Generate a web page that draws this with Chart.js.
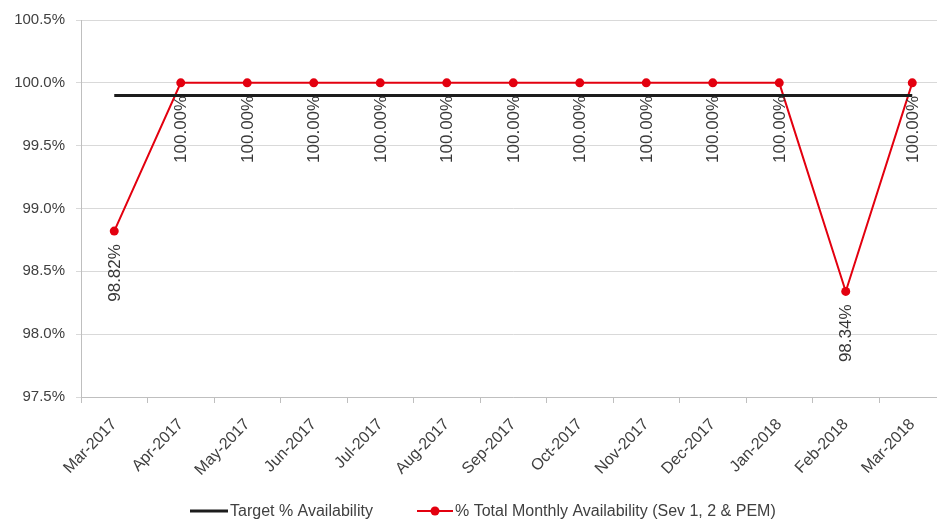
<!DOCTYPE html>
<html>
<head>
<meta charset="utf-8">
<script src="https://cdn.jsdelivr.net/npm/chart.js@4"></script>
<style>
  html, body { margin: 0; padding: 0; background: #fff; overflow: hidden; }
  #wrap { width: 950px; height: 522px; }
</style>
</head>
<body>
<div id="wrap"><canvas id="grafico" width="950" height="522"></canvas></div>
<script>
// dados do gráfico
const meses = ['Mar-2017', 'Apr-2017', 'May-2017', 'Jun-2017', 'Jul-2017', 'Aug-2017', 'Sep-2017',
  'Oct-2017', 'Nov-2017', 'Dec-2017', 'Jan-2018', 'Feb-2018', 'Mar-2018'];
const disponibilidade = [98.82, 100, 100, 100, 100, 100, 100, 100, 100, 100, 100, 98.34, 100];
const meta = [99.9, 99.9, 99.9, 99.9, 99.9, 99.9, 99.9, 99.9, 99.9, 99.9, 99.9, 99.9, 99.9];
const ticksY = [97.5, 98.0, 98.5, 99.0, 99.5, 100.0, 100.5];

const nomeMeta = 'Target % Availability';
const nomeDisp = '% Total Monthly Availability (Sev 1, 2 & PEM)';

const VERMELHO = '#e3000f';
const PRETO = '#1c1c1c';
const FONTE = '"Liberation Sans", Arial, sans-serif';

// rótulos verticais abaixo de cada ponto
const rotulosPlugin = {
  id: 'rotulos',
  afterDatasetsDraw(chart) {
    const ctx = chart.ctx;
    const meta1 = chart.getDatasetMeta(1);
    ctx.save();
    ctx.font = '17px ' + FONTE;
    ctx.fillStyle = '#383838';
    ctx.textAlign = 'right';
    ctx.textBaseline = 'middle';
    meta1.data.forEach((pt, i) => {
      ctx.save();
      ctx.translate(pt.x + 1, pt.y + 13);
      ctx.rotate(-Math.PI / 2);
      ctx.fillText(disponibilidade[i].toFixed(2) + '%', 0, 0);
      ctx.restore();
    });
    ctx.restore();
  }
};

// legenda desenhada à mão (linha preta / linha vermelha com ponto)
const legendaPlugin = {
  id: 'legenda',
  afterDraw(chart) {
    const ctx = chart.ctx;
    const y = 511;
    ctx.save();
    ctx.font = '16px ' + FONTE;
    ctx.fillStyle = '#404040';
    ctx.textAlign = 'left';
    ctx.textBaseline = 'middle';

    ctx.strokeStyle = PRETO;
    ctx.lineWidth = 3;
    ctx.beginPath();
    ctx.moveTo(190, y);
    ctx.lineTo(228, y);
    ctx.stroke();
    ctx.fillText(nomeMeta, 230, y + 1);

    ctx.strokeStyle = VERMELHO;
    ctx.lineWidth = 2;
    ctx.beginPath();
    ctx.moveTo(417, y);
    ctx.lineTo(453, y);
    ctx.stroke();
    ctx.fillStyle = VERMELHO;
    ctx.beginPath();
    ctx.arc(435, y, 4.5, 0, Math.PI * 2);
    ctx.fill();
    ctx.fillStyle = '#404040';
    ctx.fillText(nomeDisp, 455, y + 1);
    ctx.restore();
  }
};

new Chart(document.getElementById('grafico'), {
  type: 'line',
  data: {
    labels: meses,
    datasets: [
      {
        label: nomeMeta,
        data: meta,
        borderColor: PRETO,
        borderWidth: 3,
        pointRadius: 0,
        fill: false,
        tension: 0
      },
      {
        label: nomeDisp,
        data: disponibilidade,
        borderColor: VERMELHO,
        backgroundColor: VERMELHO,
        borderWidth: 2,
        pointRadius: 4.5,
        pointBackgroundColor: VERMELHO,
        pointBorderWidth: 0,
        fill: false,
        tension: 0
      }
    ]
  },
  options: {
    responsive: false,
    animation: false,
    events: [],
    layout: { padding: { top: 19, right: 1, bottom: 25, left: 0 } },
    plugins: {
      legend: { display: false },
      tooltip: { enabled: false }
    },
    scales: {
      x: {
        offset: true,
        grid: {
          offset: true,
          drawOnChartArea: false,
          drawTicks: true,
          tickLength: 6,
          color: '#bfbfbf'
        },
        border: { color: '#bfbfbf', width: 1 },
        ticks: {
          minRotation: 46,
          maxRotation: 46,
          autoSkip: false,
          padding: 12,
          color: '#404040',
          font: { family: FONTE, size: 16 }
        },
        afterFit(scale) { scale.height = 100; }
      },
      y: {
        min: 97.5,
        max: 100.5,
        afterBuildTicks(scale) {
          scale.ticks = ticksY.map(v => ({ value: v }));
        },
        grid: {
          color: '#d9d9d9',
          lineWidth: 1,
          drawTicks: true,
          tickLength: 5
        },
        border: { color: '#bfbfbf', width: 1 },
        ticks: {
          padding: 11,
          color: '#404040',
          font: { family: FONTE, size: 15 },
          callback: v => v.toFixed(1) + '%'
        },
        afterFit(scale) { scale.width = 81; }
      }
    }
  },
  plugins: [rotulosPlugin, legendaPlugin]
});
</script>
</body>
</html>
